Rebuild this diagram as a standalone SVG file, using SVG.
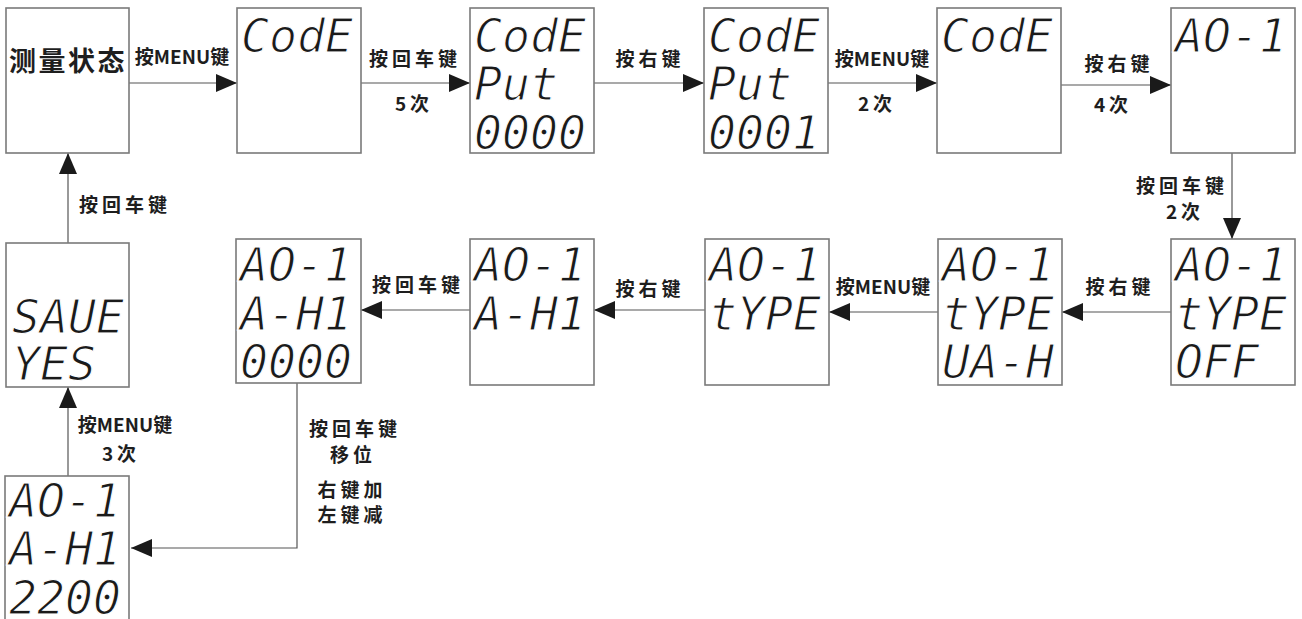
<svg xmlns="http://www.w3.org/2000/svg" width="1302" height="619" viewBox="0 0 1302 619">
<style>
.box{fill:#fff;stroke:#7a7a7a;stroke-width:1.6}
.seg{font-family:"DejaVu Sans Mono",monospace;font-style:italic;font-size:47px;fill:#1a1a1a;stroke:#fff;stroke-width:1.2}
.lbl{font-family:"Noto Sans CJK SC",sans-serif;font-weight:bold;font-size:19px;fill:#1e1e1e;text-anchor:middle}
.sp{letter-spacing:4px}
.con{fill:none;stroke:#555;stroke-width:1.2}
</style>
<defs>
<marker id="ah" markerUnits="userSpaceOnUse" markerWidth="22" markerHeight="18" refX="21" refY="9" orient="auto">
<path d="M0,0 L21,9 L0,18 Z" fill="#1a1a1a"/>
</marker>
</defs>
<rect width="1302" height="619" fill="#fff"/>
<g id="connectors">
<path class="con" d="M129,83 H237" marker-end="url(#ah)"/>
<path class="con" d="M361,83 H470" marker-end="url(#ah)"/>
<path class="con" d="M594,83 H704" marker-end="url(#ah)"/>
<path class="con" d="M828,83 H937" marker-end="url(#ah)"/>
<path class="con" d="M1061,85 H1171" marker-end="url(#ah)"/>
<path class="con" d="M1232,153 V239" marker-end="url(#ah)"/>
<path class="con" d="M1171,312 H1062" marker-end="url(#ah)"/>
<path class="con" d="M938,312 H829" marker-end="url(#ah)"/>
<path class="con" d="M705,310 H594" marker-end="url(#ah)"/>
<path class="con" d="M470,310 H361" marker-end="url(#ah)"/>
<path class="con" d="M297,383 V548 H131" marker-end="url(#ah)"/>
<path class="con" d="M68,476 V387" marker-end="url(#ah)"/>
<path class="con" d="M68,243 V153" marker-end="url(#ah)"/>
<text class="lbl" x="182" y="64">按MENU键</text>
<text class="lbl sp" x="415" y="66">按回车键</text>
<text class="lbl sp" x="414" y="111">5次</text>
<text class="lbl sp" x="650" y="66">按右键</text>
<text class="lbl" x="882" y="66">按MENU键</text>
<text class="lbl sp" x="877" y="111">2次</text>
<text class="lbl sp" x="1119" y="71">按右键</text>
<text class="lbl sp" x="1113" y="112">4次</text>
<text class="lbl sp" x="1182" y="193">按回车键</text>
<text class="lbl sp" x="1185" y="219">2次</text>
<text class="lbl sp" x="1120" y="294">按右键</text>
<text class="lbl" x="883" y="294">按MENU键</text>
<text class="lbl sp" x="650" y="296">按右键</text>
<text class="lbl sp" x="418" y="292">按回车键</text>
<text class="lbl sp" x="355" y="436">按回车键</text>
<text class="lbl sp" x="353" y="462">移位</text>
<text class="lbl sp" x="352" y="497">右键加</text>
<text class="lbl sp" x="352" y="522">左键减</text>
<text class="lbl" x="125" y="432">按MENU键</text>
<text class="lbl sp" x="121" y="461">3次</text>
<text class="lbl sp" x="125" y="212">按回车键</text>
</g>
<g id="n1"><rect class="box" x="6" y="8" width="123" height="145"/>
<text x="68" y="71" font-family="'Noto Sans CJK SC',sans-serif" font-weight="bold" font-size="27" letter-spacing="2.5" text-anchor="middle" fill="#1e1e1e">测量状态</text></g>
<g id="n2"><rect class="box" x="237" y="8" width="124" height="145"/>
<text class="seg" x="241" y="52" textLength="112" lengthAdjust="spacingAndGlyphs">CodE</text></g>
<g id="n3"><rect class="box" x="470" y="8" width="124" height="145"/>
<text class="seg" x="474" y="52" textLength="112" lengthAdjust="spacingAndGlyphs">CodE</text>
<text class="seg" x="474" y="100" textLength="84" lengthAdjust="spacingAndGlyphs">Put</text>
<text class="seg" x="474" y="149" textLength="112" lengthAdjust="spacingAndGlyphs">0000</text></g>
<g id="n4"><rect class="box" x="704" y="8" width="124" height="145"/>
<text class="seg" x="708" y="52" textLength="112" lengthAdjust="spacingAndGlyphs">CodE</text>
<text class="seg" x="708" y="100" textLength="84" lengthAdjust="spacingAndGlyphs">Put</text>
<text class="seg" x="708" y="149" textLength="112" lengthAdjust="spacingAndGlyphs">0001</text></g>
<g id="n5"><rect class="box" x="937" y="8" width="124" height="145"/>
<text class="seg" x="941" y="52" textLength="112" lengthAdjust="spacingAndGlyphs">CodE</text></g>
<g id="n6"><rect class="box" x="1171" y="8" width="124" height="145"/>
<text class="seg" x="1175" y="52" textLength="112" lengthAdjust="spacingAndGlyphs">AO-1</text></g>
<g id="n7"><rect class="box" x="1171" y="239" width="124" height="146"/>
<text class="seg" x="1175" y="281" textLength="112" lengthAdjust="spacingAndGlyphs">AO-1</text>
<text class="seg" x="1175" y="330" textLength="112" lengthAdjust="spacingAndGlyphs">tYPE</text>
<text class="seg" x="1175" y="378" textLength="84" lengthAdjust="spacingAndGlyphs">OFF</text></g>
<g id="n8"><rect class="box" x="938" y="239" width="124" height="146"/>
<text class="seg" x="942" y="281" textLength="112" lengthAdjust="spacingAndGlyphs">AO-1</text>
<text class="seg" x="942" y="330" textLength="112" lengthAdjust="spacingAndGlyphs">tYPE</text>
<text class="seg" x="942" y="378" textLength="112" lengthAdjust="spacingAndGlyphs">UA-H</text></g>
<g id="n9"><rect class="box" x="705" y="239" width="124" height="146"/>
<text class="seg" x="709" y="281" textLength="112" lengthAdjust="spacingAndGlyphs">AO-1</text>
<text class="seg" x="709" y="330" textLength="112" lengthAdjust="spacingAndGlyphs">tYPE</text></g>
<g id="n10"><rect class="box" x="470" y="239" width="124" height="146"/>
<text class="seg" x="474" y="281" textLength="112" lengthAdjust="spacingAndGlyphs">AO-1</text>
<text class="seg" x="474" y="330" textLength="112" lengthAdjust="spacingAndGlyphs">A-H1</text></g>
<g id="n11"><rect class="box" x="236" y="239" width="125" height="144"/>
<text class="seg" x="240" y="281" textLength="112" lengthAdjust="spacingAndGlyphs">AO-1</text>
<text class="seg" x="240" y="330" textLength="112" lengthAdjust="spacingAndGlyphs">A-H1</text>
<text class="seg" x="240" y="378" textLength="112" lengthAdjust="spacingAndGlyphs">0000</text></g>
<g id="n12"><rect class="box" x="6" y="243" width="123" height="144"/>
<text class="seg" x="12" y="333" textLength="112" lengthAdjust="spacingAndGlyphs">SAUE</text>
<text class="seg" x="12" y="380" textLength="84" lengthAdjust="spacingAndGlyphs">YES</text></g>
<g id="n13"><rect class="box" x="5" y="476" width="124" height="150"/>
<text class="seg" x="9" y="517" textLength="112" lengthAdjust="spacingAndGlyphs">AO-1</text>
<text class="seg" x="9" y="565" textLength="112" lengthAdjust="spacingAndGlyphs">A-H1</text>
<text class="seg" x="9" y="614" textLength="112" lengthAdjust="spacingAndGlyphs">2200</text></g>
</svg>
